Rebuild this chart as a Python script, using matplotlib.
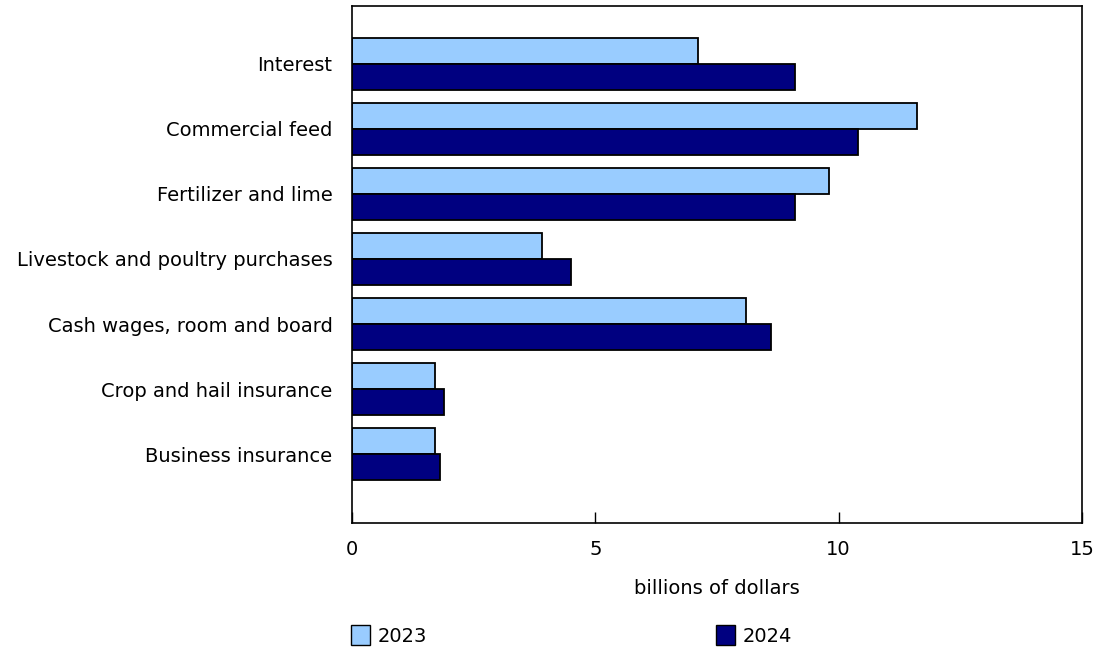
import matplotlib.pyplot as plt
import matplotlib.patches as mpatches
import numpy as np

categories = ["Interest", "Commercial feed", "Fertilizer and lime",
              "Livestock and poultry purchases", "Cash wages, room and board",
              "Crop and hail insurance", "Business insurance"]
values_2023 = [7.1, 11.6, 9.8, 3.9, 8.1, 1.7, 1.7]
values_2024 = [9.1, 10.4, 9.1, 4.5, 8.6, 1.9, 1.8]
years = ["2023", "2024"]
colors = ["#99CCFF", "#000080"]

plt.rcParams["font.family"] = ["DejaVu Sans"]
fs = 14

fig = plt.figure(figsize=(10.96, 6.49), dpi=100)
ax = fig.add_axes([352 / 1096, 1 - 523 / 649, 730 / 1096, 517 / 649])

pos = np.arange(len(categories))[::-1]
h = 0.4
ax.barh(pos + h / 2, values_2023, height=h, color=colors[0], edgecolor="black", linewidth=1.3)
ax.barh(pos - h / 2, values_2024, height=h, color=colors[1], edgecolor="black", linewidth=1.3)

ax.set_xlim(0, 15)
ax.set_ylim(-1.06, len(categories) - 1 + 0.89)
ax.set_xticks([0, 5, 10, 15])
ax.tick_params(axis="x", direction="in", length=8, width=1, labelsize=fs, pad=12)
ax.set_yticks(pos)
ax.set_yticklabels(categories, fontsize=fs)
ax.tick_params(axis="y", length=0, pad=14)
for s in ax.spines.values():
    s.set_linewidth(1.2)
    s.set_color("black")

ax.set_xlabel("billions of dollars", fontsize=fs, labelpad=15)

handles = [mpatches.Patch(facecolor=c, edgecolor="black", linewidth=1, label=y)
           for c, y in zip(colors, years)]
ax.legend(handles=handles, loc="upper left", bbox_to_anchor=(-0.002, -0.198), ncol=2,
          frameon=False, fontsize=fs, handlelength=1.0, handleheight=1.2,
          handletextpad=0.4, columnspacing=14.85, borderaxespad=0, borderpad=0)

plt.savefig("out.png", dpi=100)
